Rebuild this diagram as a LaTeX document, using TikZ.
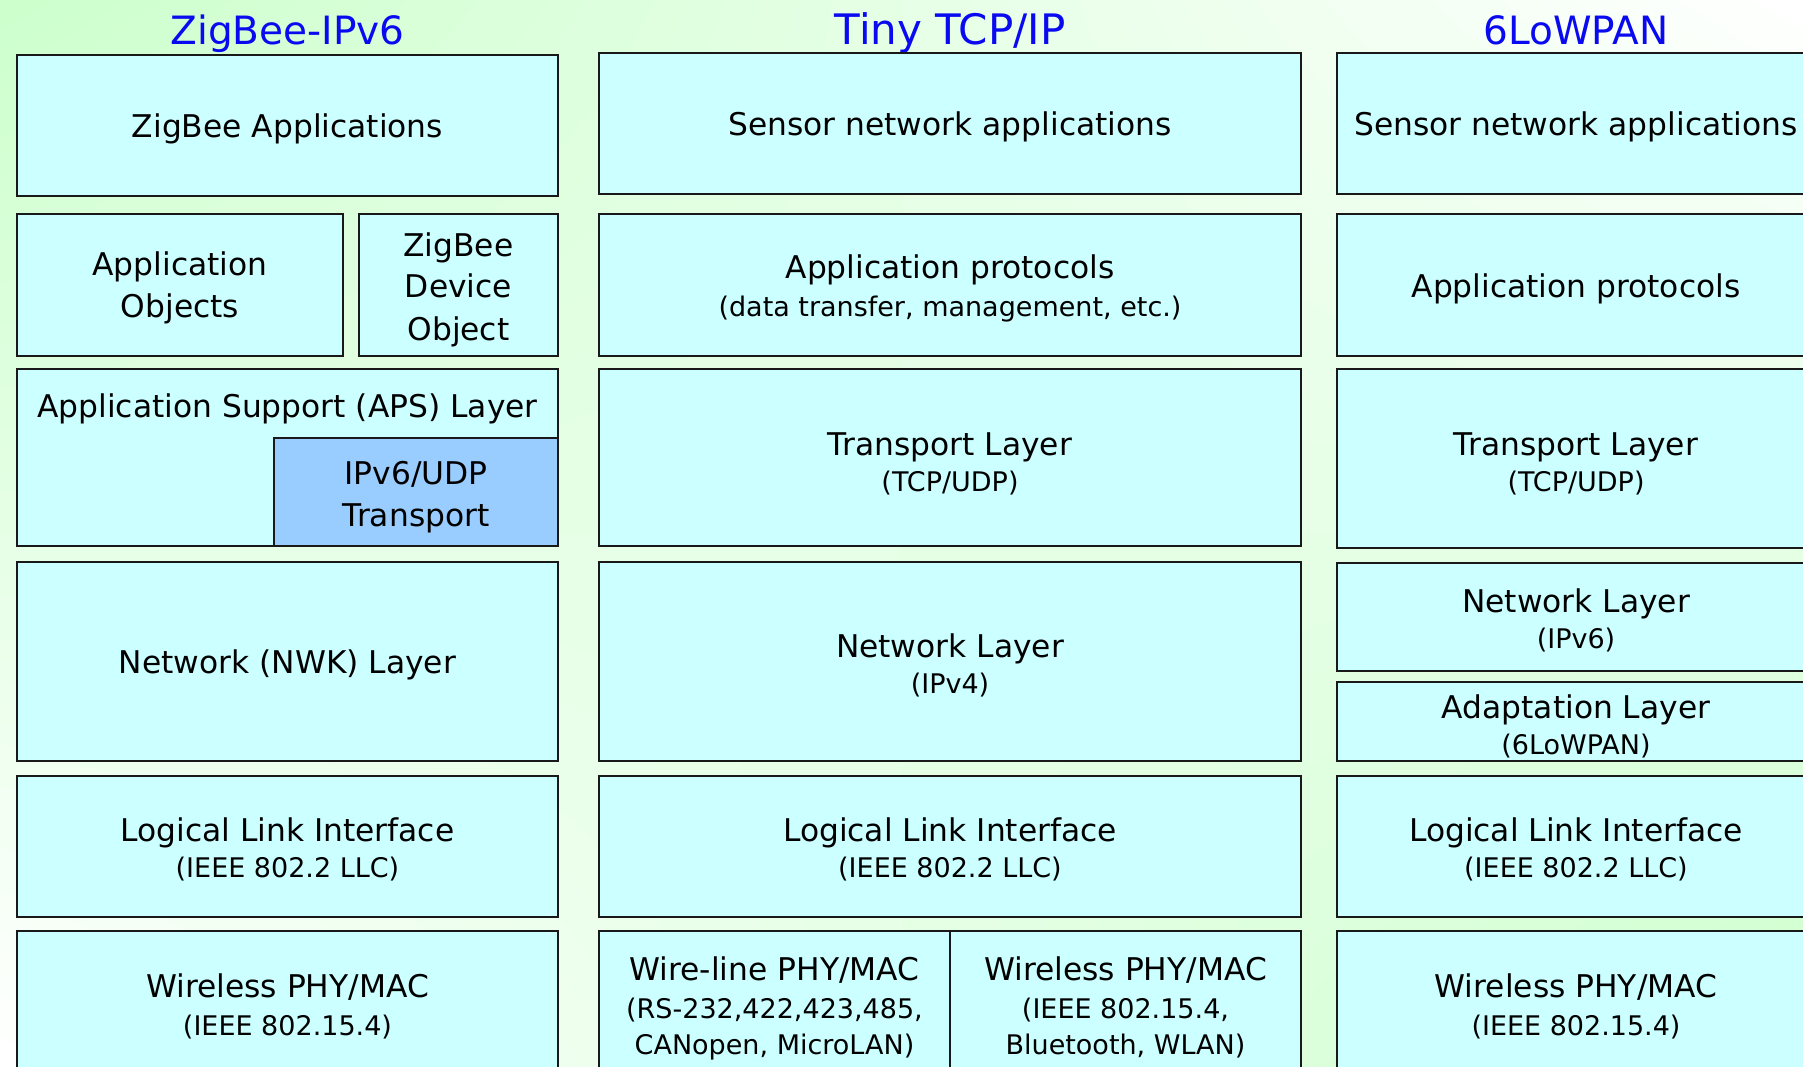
\documentclass[tikz,border=0pt]{standalone}
\usepackage{fontspec}
\setmainfont{DejaVu Sans}
\usetikzlibrary{shadings}
\definecolor{bgG}{HTML}{CCFFCC}
\definecolor{cy}{HTML}{CCFFFF}
\definecolor{bl}{HTML}{99CCFF}
\definecolor{ttl}{HTML}{0A0AF0}
\tikzset{
  layer/.style={draw=black!90, line width=2pt, fill=cy, inner sep=0pt, outer sep=0pt},
  mainlbl/.style={font=\fontsize{31.3}{41}\selectfont, anchor=base, inner sep=0pt},
  sublbl/.style={font=\fontsize{27}{36}\selectfont, anchor=base, inner sep=0pt},
  ttlbl/.style={text=ttl, anchor=base, inner sep=0pt},
}
% \lay[opts]{name}{x1}{y1}{x2}{y2}
\newcommand\lay[6][]{\node[layer,#1, minimum width={#5-#3}, minimum height={#6-#4}] (#2) at ({(#3+#5)/2},{(#4+#6)/2}) {};}
\begin{document}
\begin{tikzpicture}[x=1pt,y=-1pt]
\useasboundingbox (0,0) rectangle (1803,1067);
\clip (0,0) rectangle (1803,1067);
\shade[upper left=bgG, upper right=white, lower left=white, lower right=bgG] (0,0) rectangle (1803,1067);

% titles
\node[ttlbl, font=\fontsize{39}{46}\selectfont] (t1) at (287.5,45) {ZigBee-IPv6};
\node[ttlbl, font=\fontsize{42}{48}\selectfont] (t2) at (950,45) {Tiny TCP/IP};
\node[ttlbl, font=\fontsize{39}{46}\selectfont] (t3) at (1576,45) {6LoWPAN};

% left column: ZigBee-IPv6
\lay{za}{17}{55}{558}{196}
\lay{ao}{17}{214}{343}{356}
\lay{zdo}{359}{214}{558}{356}
\lay{aps}{17}{369}{558}{546}
\lay[fill=bl]{ipv}{274}{438}{558}{546}
\lay{nwk}{17}{562}{558}{761}
\lay{lla}{17}{776}{558}{917}
\lay{wla}{17}{931}{558}{1085}

\node[mainlbl] (zaA) at (287.5,138) {ZigBee Applications};
\node[mainlbl] (aoA) at (180,276) {Application};
\node[mainlbl] (aoB) at (180,317) {Objects};
\node[mainlbl] (zdoA) at (458.5,257) {ZigBee};
\node[mainlbl] (zdoB) at (458.5,298) {Device};
\node[mainlbl] (zdoC) at (458.5,340) {Object};
\node[mainlbl] (apsA) at (287.5,417) {Application Support (APS) Layer};
\node[mainlbl] (ipvA) at (416,484) {IPv6/UDP};
\node[mainlbl] (ipvB) at (416,526) {Transport};
\node[mainlbl] (nwkA) at (287.5,673) {Network (NWK) Layer};
\node[mainlbl] (llaA) at (287.5,841) {Logical Link Interface};
\node[sublbl] (llaB) at (287.5,877) {(IEEE 802.2 LLC)};
\node[mainlbl] (wlaA) at (287.5,997) {Wireless PHY/MAC};
\node[sublbl] (wlaB) at (287.5,1035) {(IEEE 802.15.4)};

% middle column: Tiny TCP/IP
\lay{snb}{599}{53}{1301}{194}
\lay{apb}{599}{214}{1301}{356}
\lay{tlb}{599}{369}{1301}{546}
\lay{nlb}{599}{562}{1301}{761}
\lay{llb}{599}{776}{1301}{917}
\lay{wrb}{599}{931}{950}{1085}
\lay{wsb}{950}{931}{1301}{1085}

\node[mainlbl] (snbA) at (950,136) {Sensor network applications};
\node[mainlbl] (apbA) at (950,279) {Application protocols};
\node[sublbl] (apbB) at (950,316) {(data transfer, management, etc.)};
\node[mainlbl] (tlbA) at (950,455) {Transport Layer};
\node[sublbl] (tlbB) at (950,491) {(TCP/UDP)};
\node[mainlbl] (nlbA) at (950,657) {Network Layer};
\node[sublbl] (nlbB) at (950,693) {(IPv4)};
\node[mainlbl] (llbA) at (950,841) {Logical Link Interface};
\node[sublbl] (llbB) at (950,877) {(IEEE 802.2 LLC)};
\node[mainlbl] (wrbA) at (774.5,980) {Wire-line PHY/MAC};
\node[sublbl] (wrbB) at (774.5,1018) {(RS-232,422,423,485,};
\node[sublbl] (wrbC) at (774.5,1054) {CANopen, MicroLAN)};
\node[mainlbl] (wsbA) at (1125.5,980) {Wireless PHY/MAC};
\node[sublbl] (wsbB) at (1125.5,1018) {(IEEE 802.15.4,};
\node[sublbl] (wsbC) at (1125.5,1054) {Bluetooth, WLAN)};

% right column: 6LoWPAN
\lay{snc}{1337}{53}{1815}{194}
\lay{apc}{1337}{214}{1815}{356}
\lay{tlc}{1337}{369}{1815}{548}
\lay{nlc}{1337}{563}{1815}{671}
\lay{adc}{1337}{682}{1815}{761}
\lay{llc}{1337}{776}{1815}{917}
\lay{wlc}{1337}{931}{1815}{1085}

\node[mainlbl] (sncA) at (1576,136) {Sensor network applications};
\node[mainlbl] (apcA) at (1576,297) {Application protocols};
\node[mainlbl] (tlcA) at (1576,455) {Transport Layer};
\node[sublbl] (tlcB) at (1576,491) {(TCP/UDP)};
\node[mainlbl] (nlcA) at (1576,612) {Network Layer};
\node[sublbl] (nlcB) at (1576,648) {(IPv6)};
\node[mainlbl] (adcA) at (1576,718) {Adaptation Layer};
\node[sublbl] (adcB) at (1576,754) {(6LoWPAN)};
\node[mainlbl] (llcA) at (1576,841) {Logical Link Interface};
\node[sublbl] (llcB) at (1576,877) {(IEEE 802.2 LLC)};
\node[mainlbl] (wlcA) at (1576,997) {Wireless PHY/MAC};
\node[sublbl] (wlcB) at (1576,1035) {(IEEE 802.15.4)};
\end{tikzpicture}
\end{document}
